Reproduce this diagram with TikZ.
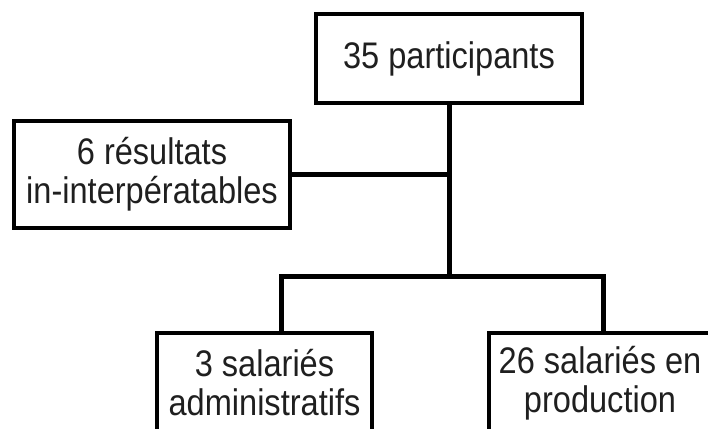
\documentclass[tikz,border=0pt]{standalone}
\usepackage{fontspec}
\setmainfont{Liberation Sans}[FakeStretch=0.88]
\begin{document}
\begin{tikzpicture}[x=1pt,y=-1pt,
  box/.style = {rectangle,draw=black,line width=3.5pt,align=center,inner sep=0pt,outer sep=0pt,
                font=\fontsize{37}{39}\selectfont,text=black!88},
  link/.style = {draw=black,line width=5pt}]
\useasboundingbox (0,0) rectangle (708,428);
\clip (0,0) rectangle (708,428);
\node[box,minimum width=266pt,minimum height=89pt] (part) at (449,58.5) {35 participants};
\node[box,minimum width=276pt,minimum height=107pt] (rejet) at (152,174.5) {6 résultats\\in-interpératables};
\node[box,minimum width=215pt,minimum height=100pt] (admin) at (264.5,383) {3 salariés\\administratifs};
\node[box,minimum width=222pt,minimum height=100pt] (prod) at (600,383) {26 salariés en\\production};
\coordinate (split) at (449,276);
\coordinate (ga) at (281,276);
\coordinate (dr) at (603,276);
\draw[link] (part.south) -- (split);
\draw[link] (rejet.east) -- (rejet.east -| part.south);
\draw[link] (ga |- admin.north) -- (ga) -- (dr) -- (dr |- prod.north);
\end{tikzpicture}
\end{document}
